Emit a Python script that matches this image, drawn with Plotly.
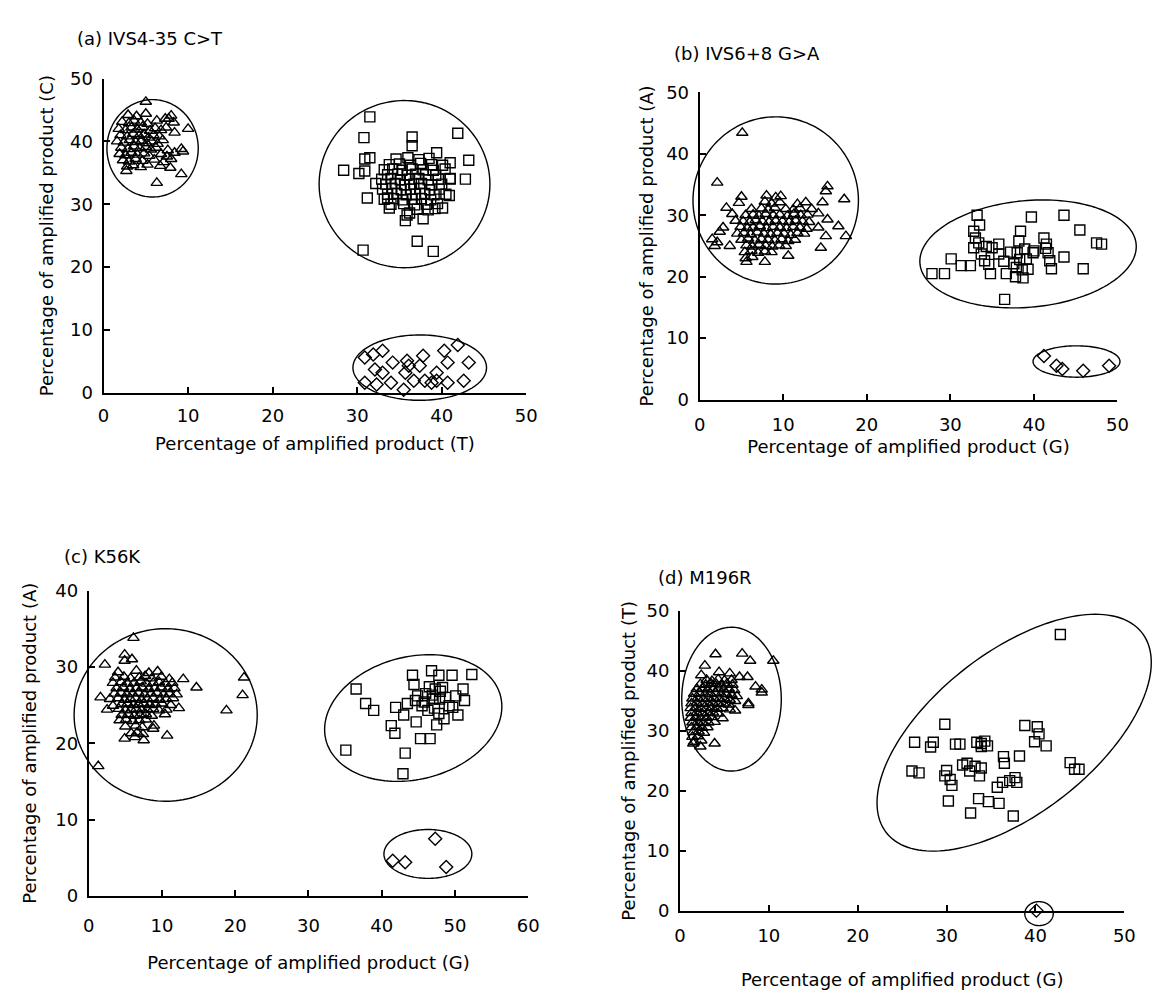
import numpy as np
import plotly.graph_objects as go

W, H = 1159, 996

# ---------------- data (percentages) ----------------
A_TRI = [(5.0,46.3),
 (2.9,44.2),(3.9,44.0),(5.0,44.4),(7.7,43.6),(8.0,44.1),
 (2.2,43.1),(3.0,42.9),(3.6,43.3),(4.4,43.0),(5.2,42.8),(6.3,43.3),(7.3,43.6),(8.3,43.0),
 (1.8,42.0),(2.6,41.8),(3.3,42.2),(4.0,41.9),(4.6,42.3),(5.5,41.7),(6.1,42.1),(6.8,41.8),(7.4,42.2),(10.0,42.0),
 (2.0,41.0),(2.8,40.8),(3.5,41.2),(4.2,40.9),(4.8,41.1),(5.3,40.6),(5.9,41.0),(6.6,40.8),(8.4,41.4),
 (1.6,40.0),(2.4,39.8),(3.1,40.2),(3.8,39.9),(4.5,40.1),(5.1,39.7),(5.7,40.0),(6.4,39.6),(7.0,40.2),
 (2.1,39.0),(2.9,38.8),(3.6,39.2),(4.3,38.9),(5.0,39.1),(5.6,38.7),(6.2,39.0),(7.6,38.6),(9.2,38.8),
 (1.9,38.0),(2.6,37.8),(3.3,38.2),(4.0,37.9),(4.8,38.1),(5.4,37.7),(6.8,38.0),(7.5,37.6),(8.4,38.2),(9.4,38.4),
 (2.3,37.0),(3.0,36.8),(3.8,37.2),(4.6,36.9),(6.0,37.1),(7.1,36.7),(8.0,37.2),
 (2.8,36.0),(3.5,36.2),(4.4,35.9),(5.2,36.3),(6.7,36.1),(7.9,35.8),
 (2.7,35.3),(9.2,34.8),(6.3,33.4)]

A_SQR = [(31.5,43.9),(30.8,40.6),(41.9,41.3),(36.5,40.7),(36.5,39.3),(28.4,35.4),(30.2,34.9),
 (30.9,35.3),(30.9,37.2),(31.5,37.4),(31.2,31.0),(32.2,33.3),(43.2,37.0),(42.8,34.0),(40.9,31.4),
 (41.0,36.6),(41.0,34.0),(39.4,38.2),(30.7,22.7),(39.0,22.5),(37.1,24.1),(37.8,27.7),(35.7,27.4),
 (35.9,28.3),(39.2,29.3),(40.1,29.4),(38.4,29.1),(33.8,29.4),(33.6,31.0),
 (34.6,37.2),(36.0,37.4),(37.3,37.1),(38.5,37.3),
 (33.8,36.3),(35.0,36.4),(36.3,36.2),(37.5,36.5),(38.8,36.3),(40.1,36.2),
 (33.2,35.5),(34.2,35.6),(35.3,35.4),(36.5,35.6),(37.8,35.5),(39.0,35.4),(40.4,35.6),
 (33.6,34.7),(34.8,34.8),(35.9,34.6),(36.9,34.8),(38.1,34.7),(39.3,34.6),
 (32.9,34.0),(34.0,34.1),(35.1,33.9),(36.2,34.0),(37.3,34.1),(38.4,33.9),(39.6,34.0),(41.0,34.1),
 (33.4,33.2),(34.5,33.3),(35.6,33.1),(36.7,33.2),(37.6,33.3),(38.8,33.1),(40.0,33.2),
 (33.0,32.4),(34.1,32.5),(35.2,32.3),(36.3,32.4),(37.4,32.5),(38.6,32.3),(39.7,32.4),
 (33.6,31.6),(34.7,31.7),(35.8,31.5),(36.9,31.6),(38.0,31.7),(39.1,31.5),(40.5,31.6),
 (33.2,30.8),(34.3,30.9),(35.4,30.7),(36.5,30.8),(37.6,30.9),(38.7,30.7),
 (34.0,30.0),(35.5,30.1),(36.8,29.9),(38.2,30.0),(39.5,30.1),
 (37.1,29.2),(36.2,28.6)]

A_DIA = [(30.9,5.6),(31.9,6.1),(33.0,6.7),(30.9,1.6),(32.3,1.3),(32.1,3.7),(33.0,3.2),(34.0,1.6),
 (35.9,5.1),(35.7,3.2),(35.5,0.5),(37.4,4.3),(37.8,5.9),(38.0,1.9),(38.8,1.6),(39.4,3.2),
 (40.7,4.8),(40.3,6.7),(41.9,7.6),(40.7,1.6),(42.6,1.9),(43.2,4.8),(39.4,1.9),(36.7,1.9),
 (36.1,4.3),(34.2,4.8)]

B_TRI = [(5.1,43.4),(2.1,35.3),(15.1,33.9),(15.3,34.7),(17.3,32.6),(14.7,32.1),
 (5.0,33.0),(8.0,33.2),(9.1,32.9),(9.7,33.1),
 (4.7,32.0),(7.8,32.2),(8.6,31.9),(9.6,32.1),(11.7,31.8),(12.7,32.1),
 (3.2,31.2),(6.2,31.0),(7.4,31.1),(8.2,30.9),(9.0,31.2),(10.3,31.0),(11.2,30.9),(12.0,31.1),(13.4,31.0),
 (3.9,30.2),(5.5,30.0),(6.4,30.1),(7.1,29.9),(7.9,30.2),(8.8,30.0),(9.6,30.1),(10.5,29.9),(11.3,30.2),(12.1,30.0),(12.9,30.1),(14.2,30.3),
 (4.3,29.1),(5.2,29.0),(6.0,28.9),(6.7,29.2),(7.5,29.0),(8.3,28.9),(9.1,29.1),(9.9,29.0),(10.7,28.9),(11.5,29.1),(12.3,29.0),(13.1,28.9),(15.3,29.3),
 (2.8,28.0),(4.9,28.1),(5.7,27.9),(6.4,28.0),(7.2,28.2),(8.0,27.9),(8.8,28.1),(9.6,28.0),(10.4,27.9),(11.2,28.1),(12.0,28.0),(12.8,27.8),(14.2,28.0),(16.6,28.2),
 (2.4,27.3),(4.5,27.0),(5.3,27.1),(6.1,26.9),(6.9,27.2),(7.7,27.0),(8.5,26.9),(9.3,27.1),(10.1,27.0),(10.9,26.8),(11.7,27.1),(12.5,27.0),(17.5,26.6),
 (1.5,26.1),(5.0,26.0),(5.8,26.2),(6.6,25.9),(7.4,26.1),(8.2,26.0),(9.0,25.9),(9.8,26.1),(10.6,25.8),(11.4,26.0),(15.1,26.6),
 (2.1,25.6),(3.6,25.0),(5.6,25.1),(6.3,24.9),(7.1,25.2),(7.9,25.0),(8.7,24.9),(9.5,25.1),(10.3,25.0),(14.5,24.7),(1.8,25.0),
 (5.4,24.0),(6.2,24.2),(7.0,23.9),(7.8,24.1),(8.6,24.0),
 (5.5,23.0),(6.3,23.2),(10.6,23.4),(5.6,22.4),(7.8,22.4)]

B_SQR = [(27.8,20.5),(29.3,20.5),(30.1,22.9),(31.3,21.8),(32.4,21.8),(32.8,27.4),(33.2,30.0),
 (33.5,28.4),(33.0,26.3),(32.8,24.7),(33.7,23.7),(34.1,22.6),(34.8,20.5),(35.0,24.7),(35.8,25.3),
 (35.8,23.7),(36.5,16.3),(36.7,20.5),(37.6,22.1),(37.8,20.0),(38.0,23.9),(38.2,25.8),(38.4,27.4),
 (38.6,21.1),(39.1,22.9),(39.7,29.7),(39.9,23.9),(41.2,26.3),(41.5,25.3),(41.7,23.9),(41.9,22.6),
 (42.1,21.3),(43.6,30.0),(43.6,23.2),(45.5,27.6),(45.9,21.3),(47.5,25.5),(48.1,25.3),(50.1,26.8),
 (50.3,22.4),(34.3,24.9),(36.4,22.5),(37.9,21.5),(38.3,22.8),(38.9,24.5),(39.3,21.2),(34.6,22.0),
 (33.4,25.5),(37.2,24.0),(38.7,19.8),(40.0,24.2),(41.4,24.6)]

B_DIA = [(41.2,7.1),(42.7,5.5),(43.4,5.0),(45.9,4.7),(49.0,5.5)]

C_TRI = [(6.1,33.8),(2.2,30.3),(4.9,31.6),(4.9,30.8),(5.9,31.0),(1.6,26.0),(1.3,17.0),(18.8,24.3),
 (21.0,26.3),(21.2,28.6),(12.9,28.4),(3.3,24.9),(10.7,21.0),(8.8,21.9),(7.5,20.4),
 (4.0,29.3),(6.5,29.5),(8.2,29.2),(9.4,29.4),
 (3.6,28.6),(4.8,28.7),(5.7,28.5),(6.9,28.6),(7.7,28.8),(8.6,28.5),(9.9,28.7),(11.0,28.4),
 (3.3,27.9),(4.4,28.0),(5.3,27.8),(6.2,27.9),(7.1,28.1),(7.9,27.8),(8.8,27.9),(9.6,28.0),(10.5,27.8),(11.4,27.9),(14.7,27.3),
 (3.8,27.2),(4.7,27.3),(5.6,27.1),(6.5,27.2),(7.3,27.3),(8.2,27.1),(9.0,27.2),(9.9,27.3),(10.8,27.1),(11.7,27.2),
 (3.5,26.5),(4.4,26.6),(5.2,26.4),(6.0,26.5),(6.8,26.6),(7.6,26.4),(8.5,26.5),(9.3,26.6),(10.2,26.4),(11.0,26.5),(12.0,26.4),
 (2.9,25.8),(4.0,25.9),(4.9,25.7),(5.7,25.8),(6.4,25.9),(7.2,25.7),(8.0,25.8),(8.8,25.9),(9.7,25.7),(10.6,25.8),(11.5,25.9),
 (4.5,25.1),(5.3,25.2),(6.1,25.0),(6.8,25.1),(7.5,25.2),(8.3,25.0),(9.1,25.1),(10.0,25.2),(11.2,25.0),(12.3,24.6),
 (2.5,24.4),(4.1,24.5),(5.0,24.3),(5.8,24.4),(6.5,24.5),(7.2,24.3),(8.0,24.4),(8.8,24.5),(9.6,24.3),(10.6,24.4),
 (4.5,23.7),(5.4,23.8),(6.2,23.6),(7.0,23.7),(7.8,23.8),(8.6,23.6),(10.4,23.8),
 (4.2,23.0),(5.1,23.1),(6.0,22.9),(6.9,23.0),(7.8,23.1),(8.9,22.3),
 (5.0,22.2),(6.4,22.3),(7.3,22.1),
 (5.8,21.3),(6.6,21.4),(7.4,21.2),(4.9,20.6),(6.3,20.8)]

C_SQR = [(36.5,27.1),(37.8,25.2),(38.9,24.3),(35.1,19.1),(41.9,24.7),(41.3,22.3),(41.8,21.3),
 (43.2,18.7),(42.9,16.0),(43.0,23.7),(43.5,25.2),(44.2,28.9),(44.4,27.7),(44.7,22.8),(45.3,20.6),
 (46.6,20.6),(46.8,29.5),(47.3,27.1),(47.8,28.9),(47.5,22.4),(48.5,23.2),(49.6,28.9),(49.7,24.7),
 (50.1,26.2),(50.4,23.7),(51.1,27.1),(51.3,25.6),(52.3,29.0),(45.8,25.4),(46.3,24.3),(47.0,25.8),
 (47.9,25.8),(48.7,26.0),(49.2,24.9),(46.0,26.5),(47.8,23.9),(44.9,26.2),(46.5,27.4),(48.3,27.3),
 (47.2,24.6),(45.5,24.9),(48.0,26.8),(46.9,26.3),(44.6,25.6)]

C_DIA = [(41.5,4.6),(43.2,4.4),(47.3,7.5),(48.8,3.8)]

D_TRI = [(4.0,42.8),(7.0,42.9),(7.9,41.7),(10.5,41.7),(2.8,40.9),(2.4,39.3),(4.4,39.8),(5.6,39.6),
 (6.7,39.0),(7.6,39.0),(8.5,37.4),(9.2,36.9),(9.2,36.4),(7.7,34.3),(6.2,33.4),(4.8,32.1),
 (3.9,27.9),(2.3,27.4),(1.5,27.9),
 (3.0,38.5),(3.6,38.3),(4.3,38.6),(5.0,38.4),(5.8,38.5),
 (2.3,37.8),(2.9,37.7),(3.5,37.9),(4.1,37.8),(4.7,37.6),(5.3,37.9),(5.9,37.7),(7.7,34.6),
 (1.9,37.0),(2.5,37.1),(3.1,36.9),(3.7,37.0),(4.3,37.1),(4.9,36.9),(5.5,37.0),(6.1,36.8),
 (1.6,36.2),(2.2,36.3),(2.8,36.1),(3.4,36.2),(4.0,36.3),(4.6,36.1),(5.2,36.2),(5.8,36.0),(6.4,35.8),
 (1.4,35.4),(2.0,35.5),(2.6,35.3),(3.2,35.4),(3.8,35.5),(4.4,35.3),(5.0,35.4),(5.6,35.2),(6.2,35.0),
 (1.3,34.6),(1.9,34.7),(2.5,34.5),(3.1,34.6),(3.7,34.7),(4.3,34.5),(4.9,34.6),(5.5,34.4),
 (1.2,33.8),(1.8,33.9),(2.4,33.7),(3.0,33.8),(3.6,33.9),(4.2,33.7),(4.8,33.8),(5.6,33.6),
 (1.3,33.0),(1.9,33.1),(2.5,32.9),(3.1,33.0),(3.7,33.1),(4.3,32.9),
 (1.2,32.2),(1.8,32.3),(2.4,32.1),(3.0,32.2),(3.6,32.3),
 (1.4,31.4),(2.0,31.5),(2.6,31.3),(3.2,31.4),(3.9,31.5),
 (1.3,30.6),(1.9,30.7),(2.5,30.5),(3.1,30.6),
 (1.5,29.8),(2.1,29.9),(2.7,29.7),(1.4,29.0),(2.0,29.1),(1.6,28.2),(2.4,28.4)]

D_SQR = [(42.8,46.1),(29.8,31.1),(26.4,28.1),(26.1,23.3),(26.9,23.0),(28.2,27.3),(28.5,28.1),
 (31.0,27.8),(31.5,27.8),(30.0,23.4),(29.8,22.5),(30.4,21.9),(30.6,20.9),(30.2,18.3),(31.8,24.3),
 (32.3,24.6),(32.6,23.3),(33.4,28.1),(33.9,27.9),(34.3,28.3),(34.6,27.5),(33.9,27.4),(33.2,24.1),
 (33.9,23.8),(33.7,22.5),(32.7,16.3),(33.6,18.7),(34.7,18.2),(35.9,17.9),(35.7,20.6),(36.3,21.4),
 (36.4,25.7),(36.5,24.6),(37.1,21.7),(37.7,22.2),(37.9,21.4),(37.5,15.8),(38.2,25.8),(38.8,30.9),
 (40.2,30.7),(40.4,29.5),(39.9,28.2),(41.2,27.5),(43.9,24.7),(44.4,23.6),(44.9,23.6)]

D_DIA = [(40.1,0.0)]

TITLES = ["(a) IVS4-35 C>T", "(b) IVS6+8 G>A", "(c) K56K", "(d) M196R"]
X_TITLES = ["Percentage of amplified product (T)", "Percentage of amplified product (G)",
            "Percentage of amplified product (G)", "Percentage of amplified product (G)"]
Y_TITLES = ["Percentage of amplified product (C)", "Percentage of amplified product (A)",
            "Percentage of amplified product (A)", "Percentage of amplified product (T)"]
X_MAX = [50, 50, 60, 50]
Y_MAX = [50, 50, 40, 50]

# grouping ellipses: centre, two conjugate semi-diameter vectors (data units)
ELLIPSES = [
    [((5.8, 38.9), (5.4, 0), (0, 7.75)), ((35.6, 33.2), (10.1, 0), (0, 13.3)), ((37.4, 4.0), (7.9, 0), (0, 5.2))],
    [((9.1, 32.4), (9.9, 0), (0, 13.6)), ((39.3, 23.7), (12.95, 1.2), (0, 8.7)), ((45.1, 6.2), (5.2, 0), (0, 2.55))],
    [((10.5, 23.7), (12.5, 0), (0, 11.3)), ((44.3, 23.3), (12.1, 1.5), (0, 8.16)), ((46.3, 5.5), (6.0, 0), (0, 3.2))],
    [((5.8, 35.3), (5.6, 0), (0, 12.0)), ((37.6, 29.7), (13.8, 17.6), (6.9, -9.0)), ((40.4, -0.5), (1.6, 0), (0, 2.0))],
]

SERIES = [(A_TRI, A_SQR, A_DIA), (B_TRI, B_SQR, B_DIA), (C_TRI, C_SQR, C_DIA), (D_TRI, D_SQR, D_DIA)]

# ---------------- layout geometry (pixels) ----------------
# (x pixel of 0, x pixel of max, y pixel of 0, y pixel of max)
PANELS = [(99, 528, 390, 69), (704, 1128, 397, 83), (84, 530, 904, 592), (684, 1135, 919, 613)]
TITLE_POS = [(70, 28), (676, 43), (57, 557), (660, 579)]
X_LABEL_STANDOFF = [6, 8, 12, 8]
X_TITLE_STANDOFF = [12, 6, 22, 28]
Y_TITLE_STANDOFF = [12, 8, 14, 6]

FONT = "DejaVu Sans, Verdana, sans-serif"
fig = go.Figure()
shapes, annotations = [], []
layout_axes = {}

for i in range(4):
    sfx = "" if i == 0 else str(i + 1)
    x0p, x1p, y0p, y1p = PANELS[i]
    layout_axes["xaxis" + sfx] = dict(
        domain=[x0p / W, x1p / W], range=[0, X_MAX[i]], anchor="y" + sfx,
        showline=True, linewidth=2, linecolor="black",
        showgrid=False, zeroline=False, ticks="inside", ticklen=6, tickwidth=1.5,
        tickcolor="black", tickvals=list(range(0, X_MAX[i] + 1, 10)),
        ticklabelstandoff=X_LABEL_STANDOFF[i],
        tickfont=dict(family=FONT, size=18, color="black"),
        title=dict(text=X_TITLES[i], font=dict(family=FONT, size=18, color="black"),
                   standoff=X_TITLE_STANDOFF[i]),
        fixedrange=True,
    )
    layout_axes["yaxis" + sfx] = dict(
        domain=[1 - y0p / H, 1 - y1p / H], range=[0, Y_MAX[i]], anchor="x" + sfx,
        showline=True, linewidth=2, linecolor="black",
        showgrid=False, zeroline=False, ticks="inside", ticklen=6, tickwidth=1.5,
        tickcolor="black", tickvals=list(range(0, Y_MAX[i] + 1, 10)),
        ticklabelstandoff=5,
        tickfont=dict(family=FONT, size=18, color="black"),
        title=dict(text=Y_TITLES[i], font=dict(family=FONT, size=18, color="black"),
                   standoff=Y_TITLE_STANDOFF[i]),
        fixedrange=True,
    )
    symbols = ["triangle-up-open", "square-open", "diamond-open"]
    for pts, sym in zip(SERIES[i], symbols):
        fig.add_trace(go.Scatter(
            x=[p[0] for p in pts], y=[p[1] for p in pts], mode="markers",
            xaxis="x" + sfx, yaxis="y" + sfx, cliponaxis=False, showlegend=False,
            marker=dict(symbol=sym, size=10, color="black", line=dict(width=1.4, color="black")),
        ))
    # ellipses given in data units, expressed as axis-domain fractions so the axes do not clip them
    xr, yr = X_MAX[i], Y_MAX[i]
    t = np.linspace(0, 2 * np.pi, 160)
    for (c, a, b) in ELLIPSES[i]:
        ex = c[0] + a[0] * np.cos(t) + b[0] * np.sin(t)
        ey = c[1] + a[1] * np.cos(t) + b[1] * np.sin(t)
        path = "M " + " L ".join(f"{u / xr:.5f},{v / yr:.5f}" for u, v in zip(ex, ey)) + " Z"
        shapes.append(dict(type="path", path=path, xref=f"x{sfx} domain", yref=f"y{sfx} domain",
                           line=dict(color="black", width=1.4), layer="above"))
    annotations.append(dict(text=TITLES[i], x=TITLE_POS[i][0] / W, y=1 - TITLE_POS[i][1] / H,
                            xref="paper", yref="paper", xanchor="left", yanchor="middle",
                            showarrow=False, font=dict(family=FONT, size=18, color="black")))

fig.update_layout(
    width=W, height=H, margin=dict(l=0, r=0, t=0, b=0),
    paper_bgcolor="white", plot_bgcolor="white",
    shapes=shapes, annotations=annotations, showlegend=False,
    **layout_axes,
)
fig.write_html("out.html", config={"displayModeBar": False},
               post_script="document.body.style.margin='0px';")
